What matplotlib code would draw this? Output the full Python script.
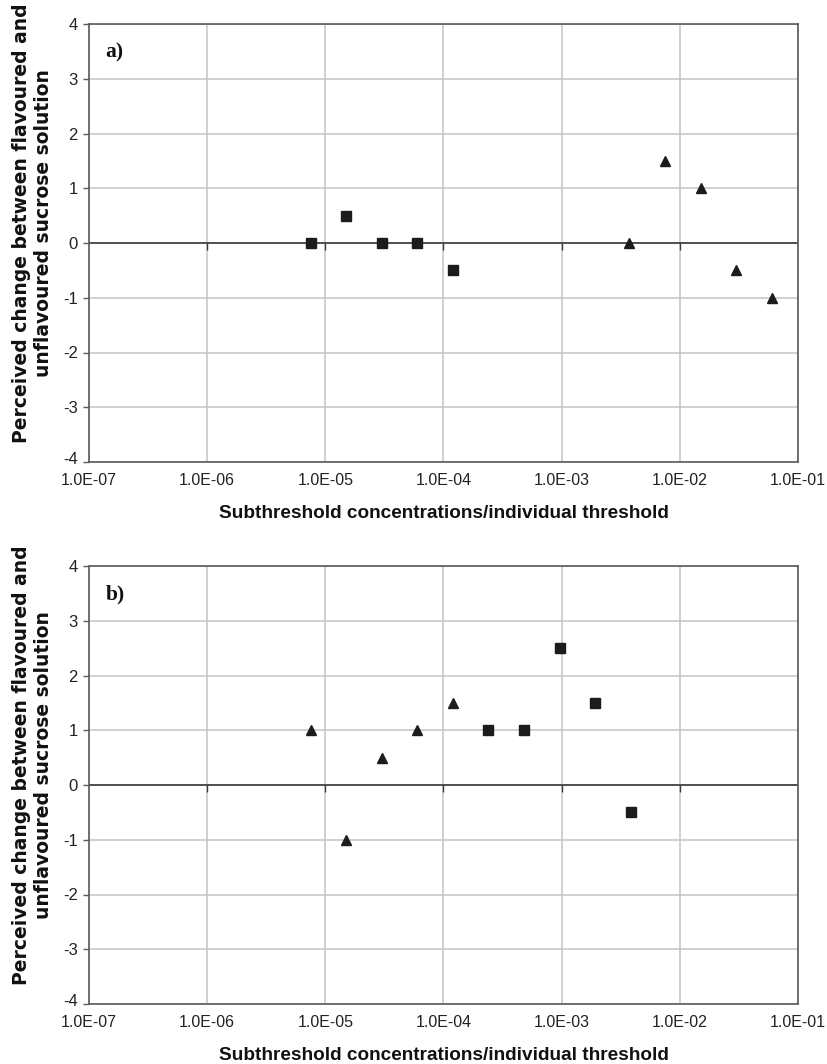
import matplotlib
matplotlib.use("Agg")
import matplotlib.pyplot as plt
import matplotlib.transforms as mtransforms
import numpy as np

# Panel a): squares (low concentration set) and triangles (high concentration set)
a_square_x = [7.5e-6, 1.5e-5, 3.0e-5, 6.0e-5, 1.2e-4]
a_square_y = [0.0, 0.5, 0.0, 0.0, -0.5]
a_triangle_x = [3.75e-3, 7.5e-3, 1.5e-2, 3.0e-2, 6.0e-2]
a_triangle_y = [0.0, 1.5, 1.0, -0.5, -1.0]

# Panel b)
b_triangle_x = [7.5e-6, 1.5e-5, 3.0e-5, 6.0e-5, 1.2e-4]
b_triangle_y = [1.0, -1.0, 0.5, 1.0, 1.5]
b_square_x = [2.4e-4, 4.8e-4, 9.6e-4, 1.92e-3, 3.84e-3]
b_square_y = [1.0, 1.0, 2.5, 1.5, -0.5]

x_ticks = [1e-7, 1e-6, 1e-5, 1e-4, 1e-3, 1e-2, 1e-1]
x_tick_labels = ["1.0E-07", "1.0E-06", "1.0E-05", "1.0E-04", "1.0E-03", "1.0E-02", "1.0E-01"]
y_ticks = [-4, -3, -2, -1, 0, 1, 2, 3, 4]

x_label = "Subthreshold concentrations/individual threshold"
y_label = "Perceived change between flavoured and\nunflavoured sucrose solution"
panel_labels = ["a)", "b)"]

plt.rcParams["font.family"] = ["Liberation Sans", "DejaVu Sans"]

fig = plt.figure(figsize=(8.27, 10.64), dpi=100)
W, H = 827.0, 1064.0
left = 89 / W
width = 709 / W
height = 438 / H
bottoms = [1 - 462 / H, 1 - 1004 / H]

marker_color = "#1c1c1c"
grid_color = "#c4c4c4"
frame_color = "#5a5a5a"

panels = [
    (a_square_x, a_square_y, a_triangle_x, a_triangle_y),
    (b_square_x, b_square_y, b_triangle_x, b_triangle_y),
]

for i, (sx, sy, tx, ty) in enumerate(panels):
    ax = fig.add_axes([left, bottoms[i], width, height])
    ax.set_xscale("log")
    ax.set_xlim(x_ticks[0], x_ticks[-1])
    ax.set_ylim(-4, 4)
    ax.set_xticks(x_ticks)
    ax.set_xticklabels(x_tick_labels)
    ax.xaxis.set_minor_locator(matplotlib.ticker.NullLocator())
    ax.set_yticks(y_ticks)
    ax.set_yticklabels([str(v) for v in y_ticks])

    ax.grid(True, color=grid_color, linewidth=1.1, zorder=0)
    ax.set_axisbelow(True)
    for s in ax.spines.values():
        s.set_color(frame_color)
        s.set_linewidth(1.2)

    # x axis crosses at zero: darker line with small downward tick marks
    ax.axhline(0, color="#3a3a3a", linewidth=1.2, zorder=1)
    ax.plot(x_ticks[1:-1], [0] * (len(x_ticks) - 2), linestyle="none",
            marker=3, markersize=5, markeredgewidth=1.0,
            color="#3a3a3a", zorder=1, clip_on=False)

    ax.tick_params(axis="x", length=0, pad=8, labelsize=11.5, labelcolor="#222222")
    ax.tick_params(axis="y", length=4, width=1.0, color=frame_color, direction="out",
                   pad=4, labelsize=12, labelcolor="#222222")
    # lift the lowest y label a little so it clears the first x label
    lift = mtransforms.ScaledTranslation(0, 3 / 72, fig.dpi_scale_trans)
    lowest = ax.get_yticklabels()[0]
    lowest.set_transform(lowest.get_transform() + lift)

    ax.plot(sx, sy, linestyle="none", marker="s", markersize=7,
            color=marker_color, zorder=3)
    ax.plot(tx, ty, linestyle="none", marker="^", markersize=7.5,
            color=marker_color, zorder=3)

    ax.text(0.023, 0.935, panel_labels[i], transform=ax.transAxes,
            fontfamily="Liberation Serif", fontweight="bold", fontsize=15.5,
            ha="left", va="center", color="#111111")

    ax.set_xlabel(x_label, fontsize=13.7, fontweight="bold", labelpad=12,
                  color="#111111")

    fig.text(33 / W, bottoms[i] + height / 2 + 20 / H, y_label, rotation=90,
             ha="center", va="center", multialignment="center",
             fontfamily="DejaVu Sans", fontsize=13.5, fontweight="bold",
             linespacing=1.2, color="#111111")

fig.savefig("out.png", dpi=100)
